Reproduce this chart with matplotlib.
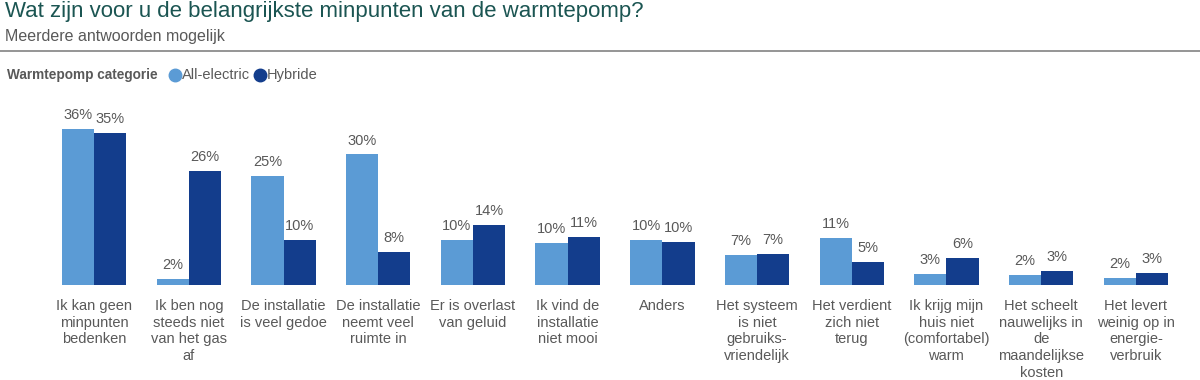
import numpy as np
import matplotlib.pyplot as plt
from matplotlib.transforms import blended_transform_factory

plt.rcParams['font.family'] = ['Liberation Sans', 'DejaVu Sans']

categories = [
    "Ik kan geen\nminpunten\nbedenken",
    "Ik ben nog\nsteeds niet\nvan het gas\naf",
    "De installatie\nis veel gedoe",
    "De installatie\nneemt veel\nruimte in",
    "Er is overlast\nvan geluid",
    "Ik vind de\ninstallatie\nniet mooi",
    "Anders",
    "Het systeem\nis niet\ngebruiks-\nvriendelijk",
    "Het verdient\nzich niet\nterug",
    "Ik krijg mijn\nhuis niet\n(comfortabel)\nwarm",
    "Het scheelt\nnauwelijks in\nde\nmaandelijkse\nkosten",
    "Het levert\nweinig op in\nenergie-\nverbruik",
]
all_electric = [36.0, 1.4, 25.2, 30.2, 10.4, 9.7, 10.4, 6.9, 10.9, 2.5, 2.3, 1.6]
hybride = [35.1, 26.3, 10.4, 7.6, 13.9, 11.1, 9.9, 7.2, 5.3, 6.2, 3.2, 2.8]
ae_labels = ["36%", "2%", "25%", "30%", "10%", "10%", "10%", "7%", "11%", "3%", "2%", "2%"]
hy_labels = ["35%", "26%", "10%", "8%", "14%", "11%", "10%", "7%", "5%", "6%", "3%", "3%"]

c_ae = '#5B9BD5'
c_hy = '#133D8C'
grey = '#595959'

fig = plt.figure(figsize=(12, 3.8), dpi=100)
ax = fig.add_axes([0.039, 0.25, 0.947, 0.455])

x = np.arange(len(categories))
w = 0.34
b1 = ax.bar(x - w / 2, all_electric, w, color=c_ae)
b2 = ax.bar(x + w / 2, hybride, w, color=c_hy)
ax.bar_label(b1, labels=ae_labels, padding=5, fontsize=10.5, color=grey)
ax.bar_label(b2, labels=hy_labels, padding=5, fontsize=10.5, color=grey)

ax.set_xlim(-0.5, len(categories) - 0.5)
ax.set_ylim(0, 40)
ax.axis('off')

trans = blended_transform_factory(ax.transData, fig.transFigure)
for i, lab in enumerate(categories):
    ax.text(i, 1 - 299 / 380, lab, transform=trans, ha='center', va='top',
            fontsize=10.5, color=grey, linespacing=1.24)

# header
fig.text(0.004, 1 - 12 / 380, "Wat zijn voor u de belangrijkste minpunten van de warmtepomp?",
         fontsize=16, color='#1B5552', va='center')
fig.text(0.004, 1 - 37 / 380, "Meerdere antwoorden mogelijk", fontsize=11.5, color=grey, va='center')
fig.add_artist(plt.Line2D([0, 1], [1 - 51 / 380] * 2, color='#8C8C8C', lw=1.3, transform=fig.transFigure))

# legend row
ly = 1 - 75 / 380
fig.text(0.006, ly, "Warmtepomp categorie", fontsize=9.8, color=grey, fontweight='bold', va='center')
fig.add_artist(plt.Line2D([175 / 1200], [ly], marker='o', ms=9, color=c_ae, transform=fig.transFigure))
fig.text(182 / 1200, ly, "All-electric", fontsize=10.5, color=grey, va='center')
fig.add_artist(plt.Line2D([260 / 1200], [ly], marker='o', ms=9, color=c_hy, transform=fig.transFigure))
fig.text(267 / 1200, ly, "Hybride", fontsize=10.5, color=grey, va='center')

fig.savefig('out.png', dpi=100)
